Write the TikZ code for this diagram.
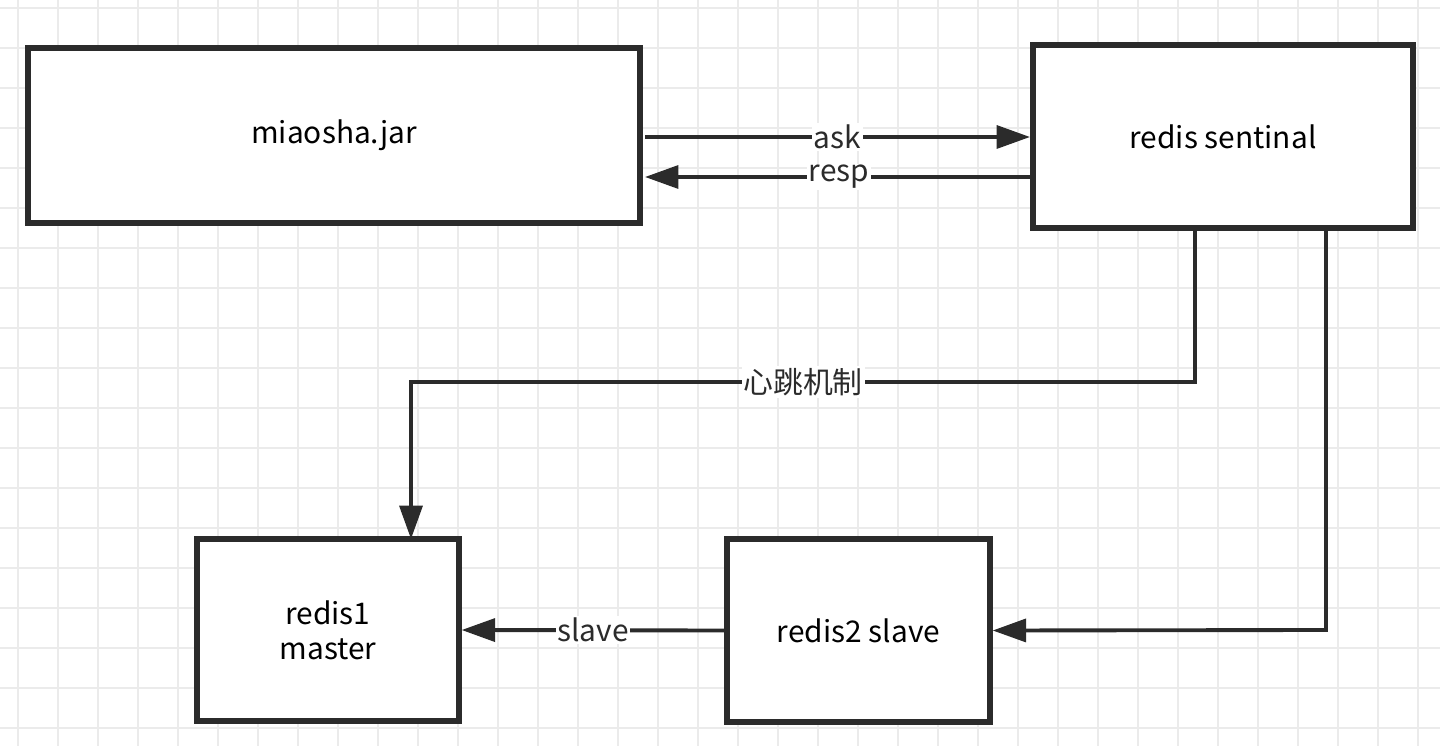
\documentclass[tikz,border=0pt]{standalone}
\usepackage{fontspec}
\setmainfont{Noto Sans CJK SC}
\usetikzlibrary{arrows.meta}
\definecolor{gridgray}{HTML}{EBEBEB}
\definecolor{inkgray}{HTML}{2B2B2B}
\tikzset{
  box/.style={draw=inkgray,line width=3pt,fill=white,inner sep=0pt},
  link/.style={draw=inkgray,line width=2.2pt,-{Triangle[length=19pt,width=13pt]}},
  tag/.style={fill=white,inner sep=1pt,font=\fontsize{17}{20}\selectfont,text=inkgray}
}
\begin{document}
\begin{tikzpicture}[x=0.02cm,y=-0.02cm,font=\fontsize{17}{20}\selectfont]
% Background grid
\fill[white] (0,0) rectangle (1440,746);
\useasboundingbox (0,0) rectangle (1440,746);
\foreach \gx in {18,58,...,1440} \draw[gridgray,line width=1.1pt] (\gx,0) -- (\gx,746);
\foreach \gy in {8,48,...,746} \draw[gridgray,line width=1.1pt] (0,\gy) -- (1440,\gy);
% Boxes
\node[box,minimum width=612*0.02cm,minimum height=175*0.02cm] (jar) at (334,135.5) {miaosha.jar};
\node[box,minimum width=380*0.02cm,minimum height=183*0.02cm] (sentinal) at (1223,136.5) {redis sentinal};
\node[box,minimum width=262*0.02cm,minimum height=182*0.02cm,align=center] (master) at (328,630) {redis1\\master};
\node[box,minimum width=263*0.02cm,minimum height=183*0.02cm] (slave) at (858.5,630.5) {redis2 slave};
% Connectors
\coordinate (askA) at (645,137);
\coordinate (respA) at (1033,177);
\draw[link] (askA) -- (1030,137) node[tag,pos=0.5] {ask};
\draw[link] (respA) -- (645,177) node[tag,pos=0.5] {resp};
\draw[link] (sentinal.south -| 1195,0) -- (1195,382) -- (411,382) node[tag,pos=0.5] {心跳机制} -- (411,539);
\draw[link] (sentinal.south -| 1326,0) -- (1326,630) -- (slave.east);
\draw[link] (slave.west) -- (master.east) node[tag,pos=0.5] {slave};
\end{tikzpicture}
\end{document}
